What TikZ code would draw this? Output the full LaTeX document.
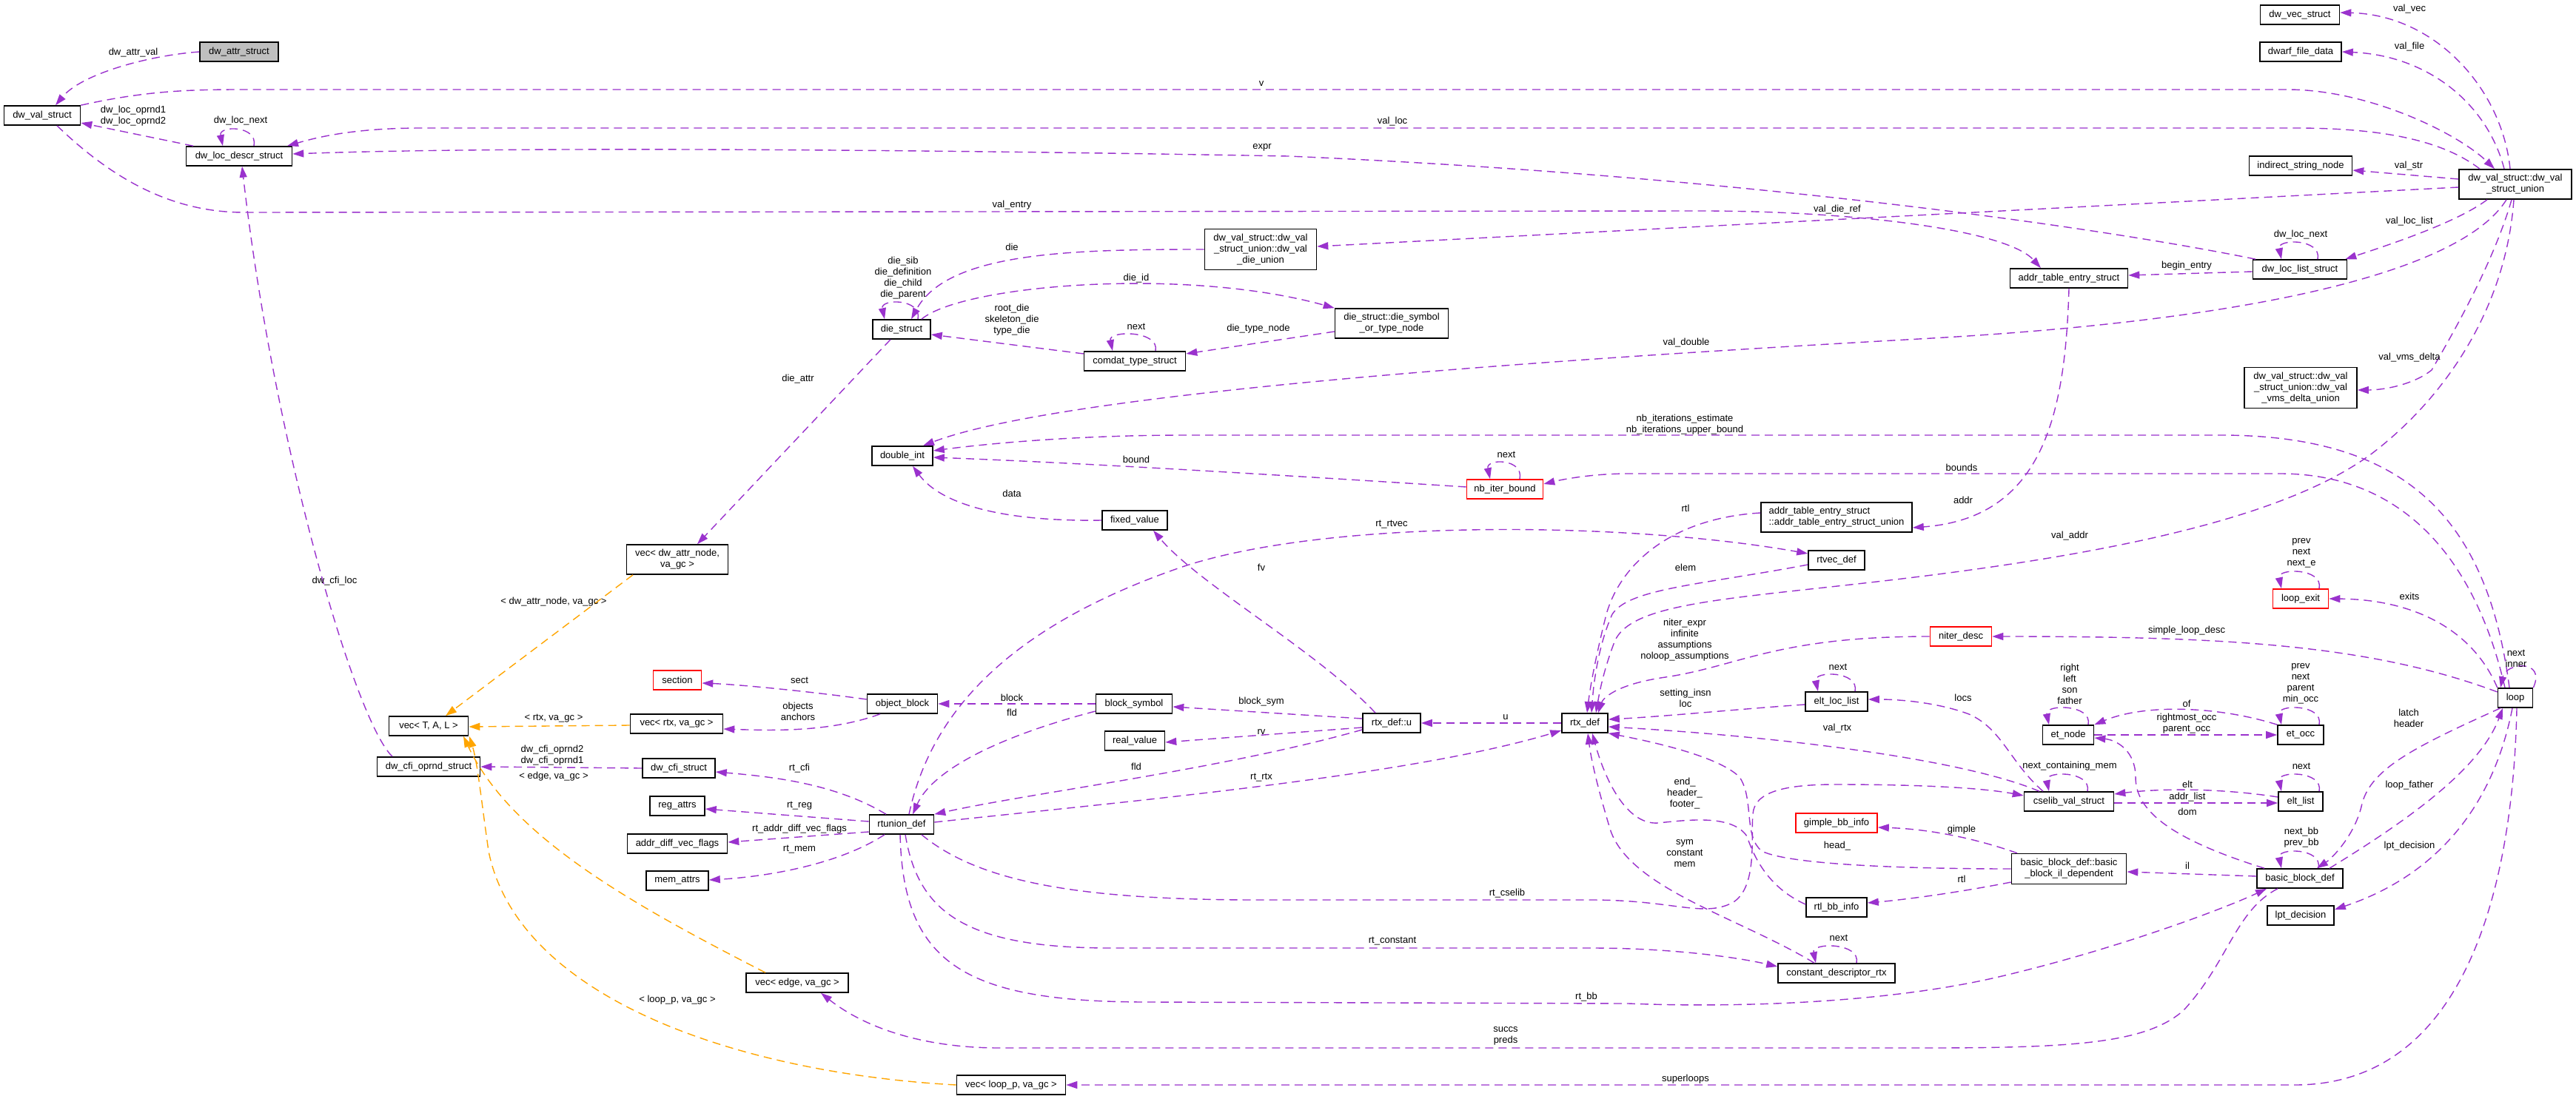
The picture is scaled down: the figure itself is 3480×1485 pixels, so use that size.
\documentclass[tikz,border=0pt]{standalone}
\usepackage{fontspec}
\setmainfont{Liberation Sans}
\usetikzlibrary{arrows.meta}
\definecolor{pcol}{HTML}{9A32CD}
\definecolor{ocol}{HTML}{FFA500}
\newcommand\labfont{\fontsize{13}{15}\selectfont}
\begin{document}
\begin{tikzpicture}[x=1pt,y=-1pt,
 box/.style={draw=black,line width=1.6pt,fill=white,font=\labfont,minimum height=26pt,inner xsep=2pt,inner ysep=2pt,align=center},
 redbox/.style={box,draw=red},
 pe/.style={draw=pcol,line width=1.4pt,dash pattern=on 11pt off 7pt,-{Triangle[length=15pt,width=10pt]}},
 oe/.style={pe,draw=ocol},
 lbl/.style={font=\labfont,align=center,inner sep=0pt}]
\useasboundingbox (0,0) rectangle (3480,1485);
% ---------- nodes ----------
\node[box,fill=gray!50,minimum width=106pt] (dattr) at (323,70) {dw\_attr\_struct};
\node[box,minimum width=103pt] (dvs) at (57,156) {dw\_val\_struct};
\node[box,minimum width=143pt] (dlds) at (323,211) {dw\_loc\_descr\_struct};
\node[box,minimum width=78pt] (die) at (1218,445) {die\_struct};
\node[box,minimum width=151pt,minimum height=55pt] (dieu) at (1703,337) {dw\_val\_struct::dw\_val\\\_struct\_union::dw\_val\\\_die\_union};
\node[box,minimum width=137pt] (comdat) at (1533,488) {comdat\_type\_struct};
\node[box,minimum width=153pt,minimum height=40pt] (dsym) at (1880,437) {die\_struct::die\_symbol\\\_or\_type\_node};
\node[box,minimum width=107pt] (dvec) at (3107,20) {dw\_vec\_struct};
\node[box,minimum width=110pt] (dfile) at (3108,70) {dwarf\_file\_data};
\node[box,minimum width=139pt] (istr) at (3108,224) {indirect\_string\_node};
\node[box,minimum width=152pt,minimum height=40pt] (dvsu) at (3398,249) {dw\_val\_struct::dw\_val\\\_struct\_union};
\node[box,minimum width=127pt] (dlls) at (3107,364) {dw\_loc\_list\_struct};
\node[box,minimum width=159pt] (ates) at (2795,376) {addr\_table\_entry\_struct};
\node[box,minimum width=152pt,minimum height=55pt] (vms) at (3108,524) {dw\_val\_struct::dw\_val\\\_struct\_union::dw\_val\\\_vms\_delta\_union};
\node[box,minimum width=137pt,minimum height=40pt] (vattr) at (915,756) {vec< dw\_attr\_node,\\va\_gc >};
\node[box,minimum width=107pt] (vtal) at (579,981) {vec< T, A, L >};
\node[box,minimum width=125pt] (vrtx) at (914,978) {vec< rtx, va\_gc >};
\node[redbox,minimum width=65pt] (sect) at (915,919) {section};
\node[box,minimum width=95pt] (oblk) at (1219,951) {object\_block};
\node[box,minimum width=82pt] (dint) at (1219,616) {double\_int};
\node[box,minimum width=88pt] (fixv) at (1533,703) {fixed\_value};
\node[box,minimum width=103pt] (bsym) at (1532,951) {block\_symbol};
\node[box,minimum width=81pt] (realv) at (1533,1001) {real\_value};
\node[redbox,minimum width=103pt] (nbib) at (2033,661) {nb\_iter\_bound};
\node[box,minimum width=204pt,minimum height=40pt,align=left] (ateu) at (2481,699) {addr\_table\_entry\_struct\\::addr\_table\_entry\_struct\_union};
\node[box,minimum width=76pt] (rtvec) at (2481,757) {rtvec\_def};
\node[box,minimum width=78pt] (rtxu) at (1880,977) {rtx\_def::u};
\node[box,minimum width=62pt] (rtx) at (2141,977) {rtx\_def};
\node[box,minimum width=84pt] (eltl) at (2481,948) {elt\_loc\_list};
\node[redbox,minimum width=83pt] (nid) at (2649,860) {niter\_desc};
\node[redbox,minimum width=75pt] (lexit) at (3108,809) {loop\_exit};
\node[box,minimum width=47pt] (loop) at (3398,943) {loop};
\node[box,minimum width=69pt] (etn) at (2794,993) {et\_node};
\node[box,minimum width=62pt] (eto) at (3108,993) {et\_occ};
\node[box,minimum width=121pt] (csel) at (2795,1083) {cselib\_val\_struct};
\node[box,minimum width=60pt] (eltli) at (3108,1083) {elt\_list};
\node[box,minimum width=155pt,minimum height=41pt] (bbil) at (2795,1174) {basic\_block\_def::basic\\\_block\_il\_dependent};
\node[box,minimum width=116pt] (bb) at (3107,1187) {basic\_block\_def};
\node[box,minimum width=90pt] (lpt) at (3108,1237) {lpt\_decision};
\node[redbox,minimum width=110pt] (gbb) at (2481,1112) {gimple\_bb\_info};
\node[box,minimum width=82pt] (rbb) at (2481,1226) {rtl\_bb\_info};
\node[box,minimum width=158pt] (cdr) at (2481,1315) {constant\_descriptor\_rtx};
\node[box,minimum width=139pt] (cfio) at (579,1036) {dw\_cfi\_oprnd\_struct};
\node[box,minimum width=98pt] (cfis) at (917,1038) {dw\_cfi\_struct};
\node[box,minimum width=74pt] (rega) at (915,1089) {reg\_attrs};
\node[box,minimum width=135pt] (adv) at (915,1140) {addr\_diff\_vec\_flags};
\node[box,minimum width=84pt] (mema) at (915,1190) {mem\_attrs};
\node[box,minimum width=87pt] (rtu) at (1218,1114) {rtunion\_def};
\node[box,minimum width=138pt] (vedge) at (1077,1328) {vec< edge, va\_gc >};
\node[box,minimum width=147pt] (vloop) at (1366,1466) {vec< loop\_p, va\_gc >};
% ---------- edges ----------
\draw[pe] (dattr.west) .. controls (200,75) and (110,100) .. ([xshift=18pt]dvs.north);
\draw[pe] (dvs.north east) .. controls (200,122) and (260,121) .. (330,121) -- (3090,121) .. controls (3200,121) and (3320,180) .. ([xshift=-28pt]dvsu.north);
\draw[pe] ([xshift=-48pt]dvsu.north) .. controls (3300,190) and (3220,173) .. (3100,173) -- (570,173) .. controls (480,173) and (430,185) .. ([xshift=65pt]dlds.north);
\draw[pe] ([xshift=-62pt]dlds.north) -- ([yshift=-10pt]dvs.east);
\draw[pe] ([xshift=20pt]dlds.north) .. controls +(6,-28) and +(-6,-28) .. ([xshift=-22pt]dlds.north);
\draw[pe] ([xshift=-60pt]dlls.north) .. controls (2800,300) and (2300,235) .. (1740,211) .. controls (1300,203) and (700,197) .. ([yshift=3pt]dlds.east);
\draw[pe] ([xshift=20pt]dvs.south) .. controls (150,240) and (230,287) .. (330,287) -- (2300,285) .. controls (2500,285) and (2710,310) .. ([xshift=-38pt]ates.north);
\draw[pe] ([yshift=-4pt]dvsu.west) -- ([yshift=4pt]dieu.east);
\draw[pe] ([xshift=-7pt]dvsu.north) .. controls (3380,120) and (3290,20) .. ([yshift=3pt]dvec.east);
\draw[pe] ([xshift=-15pt]dvsu.north) .. controls (3360,140) and (3280,75) .. (dfile.east);
\draw[pe] ([yshift=7pt]dvsu.west) -- ([yshift=-6pt]istr.east);
\draw[pe] ([xshift=-38pt]dvsu.south) .. controls (3320,300) and (3230,330) .. ([xshift=-3pt]dlls.north east);
\draw[pe] ([xshift=24pt]dlls.north) .. controls +(6,-28) and +(-6,-28) .. ([xshift=-25pt]dlls.north);
\draw[pe] ([yshift=-3pt]dlls.west) -- ([yshift=4pt]ates.east);
\draw[pe] ([xshift=-12pt]dvsu.south) .. controls (3330,360) and (3080,430) .. (2610,457) .. controls (2200,480) and (1450,525) .. ([xshift=28pt]dint.north);
\draw[pe] ([xshift=-5pt]dvsu.south) .. controls (3370,350) and (3320,440) .. (3285,500) .. controls (3260,520) and (3220,527) .. ([yshift=-3pt]vms.east);
\draw[pe] ([xshift=-2pt]dvsu.south) .. controls (3385,420) and (3300,540) .. (3204,613) .. controls (3100,690) and (2900,740) .. (2610,777) .. controls (2350,810) and (2200,810) .. (2180,870) .. controls (2165,910) and (2160,940) .. ([xshift=15pt]rtx.north);
\draw[pe] (nid.west) .. controls (2400,860) and (2350,900) .. (2250,915) .. controls (2180,925) and (2165,945) .. ([xshift=18pt]rtx.north);
\draw[pe] ([yshift=6pt]ateu.west) .. controls (2260,700) and (2190,760) .. (2170,830) .. controls (2155,890) and (2148,930) .. ([xshift=3pt]rtx.north);
\draw[pe] ([yshift=-6pt]rtvec.west) .. controls (2300,790) and (2200,795) .. (2178,830) .. controls (2160,870) and (2153,920) .. ([xshift=9pt]rtx.north);
\draw[pe] (ates.south) .. controls (2790,560) and (2760,700) .. ([yshift=-14pt]ateu.east);
\draw[pe] ([xshift=-8pt]loop.north) .. controls (3360,700) and (3250,588) .. (3000,588) -- (1600,588) .. controls (1450,588) and (1330,600) .. ([yshift=7pt]dint.east);
\draw[pe] ([xshift=-14pt]loop.north) .. controls (3345,760) and (3250,640) .. (3080,640) -- (2200,640) .. controls (2150,640) and (2110,648) .. ([yshift=7pt]nbib.east);
\draw[pe] (loop.north west) .. controls (3340,850) and (3260,810) .. (lexit.east);
\draw[pe] ([yshift=8pt]loop.west) .. controls (3200,870) and (3000,860) .. (nid.east);
\draw[pe] (loop.north east) .. controls (3440,890) and (3385,895) .. ([xshift=-20pt]loop.north);
\draw[pe] ([xshift=-20pt]loop.south) .. controls (3260,1010) and (3200,1040) .. (3190,1090) .. controls (3180,1130) and (3150,1160) .. ([xshift=23pt]bb.north);
\draw[pe] ([xshift=40pt]bb.north) .. controls (3250,1110) and (3350,1040) .. ([xshift=-17pt]loop.south);
\draw[pe] ([xshift=-4pt]loop.south) .. controls (3370,1080) and (3300,1180) .. ([yshift=8pt]lpt.east);
\draw[pe] ([xshift=2pt]loop.south) .. controls (3395,1200) and (3330,1466) .. (3100,1466) -- (vloop.east);
\draw[pe] ([yshift=3pt]bb.west) -- ([yshift=-4pt]bbil.east);
\draw[pe] ([xshift=25pt]bb.north) .. controls +(6,-28) and +(-6,-28) .. ([xshift=-25pt]bb.north);
\draw[pe] ([xshift=-48pt]bb.north) .. controls (2920,1130) and (2885,1090) .. (2885,1050) .. controls (2885,1015) and (2860,1000) .. ([yshift=-4pt]etn.east);
\draw[pe] ([xshift=-70pt]bbil.north) .. controls (2660,1130) and (2600,1120) .. ([yshift=-6pt]gbb.east);
\draw[pe] ([yshift=-18pt]bbil.west) .. controls (2650,1205) and (2580,1215) .. ([yshift=6pt]rbb.east);
\draw[pe] (bbil.west) .. controls (2600,1174) and (2420,1170) .. (2380,1150) .. controls (2355,1130) and (2370,1080) .. (2350,1050) .. controls (2320,1020) and (2220,1000) .. (rtx.south east);
\draw[pe] ([yshift=4pt]rbb.west) .. controls (2390,1200) and (2370,1160) .. (2360,1130) .. controls (2340,1100) and (2280,1108) .. (2240,1112) .. controls (2200,1115) and (2170,1060) .. ([xshift=10pt]rtx.south);
\draw[pe] ([xshift=-30pt]cdr.north) .. controls (2350,1240) and (2200,1200) .. (2175,1120) .. controls (2160,1070) and (2150,1030) .. ([xshift=4pt]rtx.south);
\draw[pe] ([xshift=-40pt]csel.north) .. controls (2650,1025) and (2400,995) .. ([yshift=-5pt]rtx.east);
\draw[pe] ([yshift=-4pt]eltl.west) .. controls (2350,958) and (2250,968) .. ([yshift=5pt]rtx.east);
\draw[pe] ([xshift=25pt]eltl.north) .. controls +(6,-28) and +(-6,-28) .. ([xshift=-25pt]eltl.north);
\draw[pe] ([xshift=-35pt]csel.north) .. controls (2715,1030) and (2705,985) .. (2660,965) .. controls (2620,950) and (2570,945) .. ([yshift=3pt]eltl.east);
\draw[pe] ([xshift=25pt]csel.north) .. controls +(6,-28) and +(-6,-28) .. ([xshift=-27pt]csel.north);
\draw[pe] ([yshift=6pt]eltli.west) .. controls (3000,1065) and (2920,1065) .. ([yshift=10pt]csel.east);
\draw[pe] ([yshift=-2pt]csel.east) -- ([yshift=-2pt]eltli.west);
\draw[pe] ([xshift=25pt]eltli.north) .. controls +(6,-28) and +(-6,-28) .. ([xshift=-26pt]eltli.north);
\draw[pe] (eto.north west) .. controls (3000,955) and (2900,950) .. (etn.north east);
\draw[pe] (etn.east) -- (eto.west);
\draw[pe] ([xshift=27pt]etn.north) .. controls +(6,-28) and +(-6,-28) .. ([xshift=-26pt]etn.north);
\draw[pe] ([xshift=25pt]eto.north) .. controls +(6,-28) and +(-6,-28) .. ([xshift=-26pt]eto.north);
\draw[pe] ([xshift=25pt]lexit.north) .. controls +(6,-28) and +(-6,-28) .. ([xshift=-26pt]lexit.north);
\draw[pe] ([xshift=20pt]nbib.north) .. controls +(6,-28) and +(-6,-28) .. ([xshift=-20pt]nbib.north);
\draw[pe] ([xshift=27pt]cdr.north) .. controls +(6,-28) and +(-6,-28) .. ([xshift=-28pt]cdr.north);
\draw[pe] ([xshift=22pt]die.north) .. controls +(6,-28) and +(-6,-28) .. ([xshift=-23pt]die.north);
\draw[pe] (dieu.west) .. controls (1450,337) and (1280,340) .. ([xshift=13pt]die.north);
\draw[pe] ([xshift=27pt]die.north) .. controls (1300,385) and (1600,360) .. (dsym.north west);
\draw[pe] ([yshift=-11pt]dsym.west) -- ([yshift=10pt]comdat.east);
\draw[pe] ([xshift=28pt]comdat.north) .. controls +(6,-28) and +(-6,-28) .. ([xshift=-30pt]comdat.north);
\draw[pe] ([yshift=10pt]comdat.west) -- ([yshift=-7pt]die.east);
\draw[pe] ([xshift=-15pt]die.south) -- ([xshift=27pt]vattr.north);
\draw[pe] ([xshift=-49pt]cfio.north) .. controls (480,975) and (370,600) .. ([xshift=4pt]dlds.south);
\draw[pe] (cfis.west) -- (cfio.east);
\draw[oe] ([xshift=-43pt]vedge.north) .. controls (850,1220) and (690,1130) .. ([xshift=47pt]vtal.south);
\draw[oe] (vloop.west) .. controls (1000,1450) and (700,1350) .. (660,1150) .. controls (650,1080) and (645,1030) .. ([xshift=55pt]vtal.south);
\draw[oe] ([xshift=-60pt]vattr.south) -- ([xshift=23pt]vtal.north);
\draw[oe] ([yshift=-2pt]vrtx.west) -- ([yshift=-1pt]vtal.east);
\draw[pe] ([yshift=6pt]oblk.west) .. controls (1100,935) and (1000,925) .. ([yshift=-4pt]sect.east);
\draw[pe] ([xshift=-30pt]oblk.south) .. controls (1120,990) and (1040,987) .. ([yshift=-7pt]vrtx.east);
\draw[pe] (bsym.west) -- (oblk.east);
\draw[pe] ([yshift=-10pt]bsym.west) .. controls (1350,995) and (1260,1040) .. ([xshift=15pt]rtu.north);
\draw[pe] ([yshift=6pt]rtxu.west) -- ([yshift=-4pt]bsym.east);
\draw[pe] ([yshift=-6pt]rtxu.west) -- ([yshift=-2pt]realv.east);
\draw[pe] ([xshift=-22pt]rtxu.north) .. controls (1780,880) and (1620,790) .. ([xshift=25pt]fixv.south);
\draw[pe] (rtx.west) -- (rtxu.east);
\draw[pe] (fixv.west) .. controls (1350,705) and (1270,680) .. ([xshift=14pt]dint.south);
\draw[pe] ([yshift=3pt]nbib.west) .. controls (1700,640) and (1450,625) .. ([yshift=-2pt]dint.east);
\draw[pe] ([xshift=-21pt]rtu.north) .. controls (1130,1060) and (1050,1050) .. ([yshift=-5pt]cfis.east);
\draw[pe] ([yshift=4pt]rtu.west) -- ([yshift=-4pt]rega.east);
\draw[pe] ([yshift=-10pt]rtu.west) -- ([yshift=2pt]adv.east);
\draw[pe] ([xshift=-23pt]rtu.south) .. controls (1130,1170) and (1030,1185) .. ([yshift=1pt]mema.east);
\draw[pe] ([xshift=10pt]rtu.north) .. controls (1260,950) and (1380,840) .. (1600,765) .. controls (1800,700) and (2200,705) .. ([yshift=9pt]rtvec.west);
\draw[pe] ([yshift=-9pt]rtxu.west) .. controls (1650,1040) and (1400,1070) .. (rtu.north east);
\draw[pe] ([yshift=3pt]rtu.east) .. controls (1500,1085) and (1900,1050) .. ([yshift=-10pt]rtx.west);
\draw[pe] ([xshift=27pt]rtu.south) .. controls (1320,1190) and (1450,1216) .. (1700,1216) -- (2150,1216) .. controls (2260,1216) and (2300,1240) .. (2340,1220) .. controls (2375,1200) and (2365,1130) .. (2368,1100) .. controls (2370,1070) and (2410,1060) .. (2480,1060) .. controls (2600,1060) and (2680,1065) .. ([yshift=8pt]csel.west);
\draw[pe] ([xshift=5pt]rtu.south) .. controls (1240,1230) and (1300,1281) .. (1500,1281) -- (2150,1281) .. controls (2250,1281) and (2340,1292) .. ([yshift=9pt]cdr.west);
\draw[pe] ([xshift=-2pt]rtu.south) .. controls (1220,1300) and (1300,1354) .. (1550,1354) -- (2200,1356) .. controls (2350,1362) and (2550,1355) .. (2700,1320) .. controls (2850,1285) and (3000,1230) .. ([xshift=-45pt]bb.south);
\draw[pe] ([xshift=-30pt]bb.south) .. controls (3020,1230) and (3010,1300) .. (2950,1365) .. controls (2900,1410) and (2800,1416) .. (2600,1416) -- (1350,1416) .. controls (1250,1416) and (1170,1390) .. ([xshift=32pt]vedge.south);
% ---------- labels ----------
\node[lbl] (l1) at (180,71) {dw\_attr\_val};
\node[lbl] (l2) at (1704,113) {v};
\node[lbl] (l3) at (1881,164) {val\_loc};
\node[lbl] (l4) at (180,157) {dw\_loc\_oprnd1\\dw\_loc\_oprnd2};
\node[lbl] (l5) at (325,163) {dw\_loc\_next};
\node[lbl] (l6) at (1705,199) {expr};
\node[lbl] (l7) at (1367,277) {val\_entry};
\node[lbl] (l8) at (2482,283) {val\_die\_ref};
\node[lbl] (l9) at (3255,12) {val\_vec};
\node[lbl] (l10) at (3255,63) {val\_file};
\node[lbl] (l11) at (3254,224) {val\_str};
\node[lbl] (l12) at (3255,299) {val\_loc\_list};
\node[lbl] (l13) at (3108,317) {dw\_loc\_next};
\node[lbl] (l14) at (2954,359) {begin\_entry};
\node[lbl] (l15) at (2278,463) {val\_double};
\node[lbl] (l16) at (3255,483) {val\_vms\_delta};
\node[lbl] (l17) at (2796,724) {val\_addr};
\node[lbl] (l18) at (2276,865) {niter\_expr\\infinite\\assumptions\\noloop\_assumptions};
\node[lbl] (l19) at (2277,687) {rtl};
\node[lbl] (l20) at (2277,767) {elem};
\node[lbl] (l21) at (2652,676) {addr};
\node[lbl] (l22) at (2276,574) {nb\_iterations\_estimate\\nb\_iterations\_upper\_bound};
\node[lbl] (l23) at (2650,632) {bounds};
\node[lbl] (l24) at (3255,806) {exits};
\node[lbl] (l25) at (2954,852) {simple\_loop\_desc};
\node[lbl] (l26) at (3399,890) {next\\inner};
\node[lbl] (l27) at (3254,970) {latch\\header};
\node[lbl] (l28) at (3255,1061) {loop\_father};
\node[lbl] (l29) at (3255,1143) {lpt\_decision};
\node[lbl] (l30) at (2277,1458) {superloops};
\node[lbl] (l31) at (2955,1170) {il};
\node[lbl] (l32) at (3109,1132) {next\_bb\\prev\_bb};
\node[lbl] (l33) at (2955,1097) {dom};
\node[lbl] (l34) at (2650,1121) {gimple};
\node[lbl] (l35) at (2650,1188) {rtl};
\node[lbl] (l36) at (2482,1143) {head\_};
\node[lbl] (l37) at (2276,1072) {end\_\\header\_\\footer\_};
\node[lbl] (l38) at (2276,1153) {sym\\constant\\mem};
\node[lbl] (l39) at (2482,984) {val\_rtx};
\node[lbl] (l40) at (2277,943) {setting\_insn\\loc};
\node[lbl] (l41) at (2483,901) {next};
\node[lbl] (l42) at (2652,943) {locs};
\node[lbl] (l43) at (2796,1035) {next\_containing\_mem};
\node[lbl] (l44) at (2955,1060) {elt};
\node[lbl] (l45) at (2955,1077) {addr\_list};
\node[lbl] (l46) at (3109,1035) {next};
\node[lbl] (l47) at (2954,951) {of};
\node[lbl] (l48) at (2954,978) {rightmost\_occ\\parent\_occ};
\node[lbl] (l49) at (2796,924) {right\\left\\son\\father};
\node[lbl] (l50) at (3108,924) {prev\\next\\parent\\min\_occ};
\node[lbl] (l51) at (3109,747) {prev\\next\\next\_e};
\node[lbl] (l52) at (2035,614) {next};
\node[lbl] (l53) at (2484,1267) {next};
\node[lbl] (l54) at (1220,376) {die\_sib\\die\_definition\\die\_child\\die\_parent};
\node[lbl] (l55) at (1367,334) {die};
\node[lbl] (l56) at (1535,376) {die\_id};
\node[lbl] (l57) at (1700,444) {die\_type\_node};
\node[lbl] (l58) at (1535,441) {next};
\node[lbl] (l59) at (1367,432) {root\_die\\skeleton\_die\\type\_die};
\node[lbl] (l60) at (1078,512) {die\_attr};
\node[lbl] (l61) at (452,785) {dw\_cfi\_loc};
\node[lbl] (l62) at (746,1021) {dw\_cfi\_oprnd2\\dw\_cfi\_oprnd1};
\node[lbl] (l63) at (748,1049) {< edge, va\_gc >};
\node[lbl] (l64) at (915,1351) {< loop\_p, va\_gc >};
\node[lbl] (l65) at (748,813) {< dw\_attr\_node, va\_gc >};
\node[lbl] (l66) at (748,971) {< rtx, va\_gc >};
\node[lbl] (l67) at (1080,919) {sect};
\node[lbl] (l68) at (1078,961) {objects\\anchors};
\node[lbl] (l69) at (1367,943) {block};
\node[lbl] (l70) at (1367,963) {fld};
\node[lbl] (l71) at (1704,948) {block\_sym};
\node[lbl] (l72) at (1704,989) {rv};
\node[lbl] (l73) at (1704,767) {fv};
\node[lbl] (l74) at (2034,969) {u};
\node[lbl] (l75) at (1367,667) {data};
\node[lbl] (l76) at (1535,621) {bound};
\node[lbl] (l77) at (1080,1038) {rt\_cfi};
\node[lbl] (l78) at (1080,1089) {rt\_reg};
\node[lbl] (l79) at (1080,1120) {rt\_addr\_diff\_vec\_flags};
\node[lbl] (l80) at (1080,1148) {rt\_mem};
\node[lbl] (l81) at (1880,709) {rt\_rtvec};
\node[lbl] (l82) at (1535,1036) {fld};
\node[lbl] (l83) at (1704,1051) {rt\_rtx};
\node[lbl] (l84) at (2036,1207) {rt\_cselib};
\node[lbl] (l85) at (1881,1272) {rt\_constant};
\node[lbl] (l86) at (2143,1347) {rt\_bb};
\node[lbl] (l87) at (2034,1400) {succs\\preds};
\end{tikzpicture}
\end{document}
